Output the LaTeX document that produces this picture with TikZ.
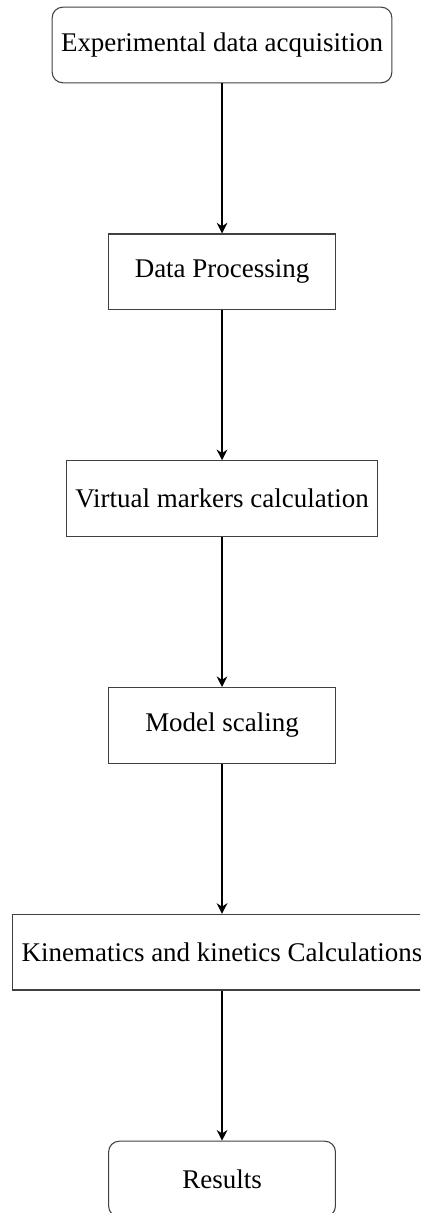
\documentclass[tikz,border=0pt]{standalone}
\usepackage{fontspec}
\setmainfont{Liberation Serif}
\usetikzlibrary{arrows.meta,positioning}
\begin{document}
\begin{tikzpicture}[
  box/.style={draw=black!75, line width=0.4pt, minimum width=3cm, minimum height=1cm, align=center, font=\fontsize{10.15}{12}\selectfont},
  term/.style={box, rounded corners=4pt},
  flow/.style={-{Stealth[length=4pt,width=4pt]}, line width=0.8pt, black}
]
\clip (-2.937,0.595) rectangle (2.619,-15.45);
\node[term] (a) at (0,0) {Experimental data acquisition};
\node[box] (b) at (0,-3) {Data Processing};
\node[box] (c) at (0,-6) {Virtual markers calculation};
\node[box] (d) at (0,-9) {Model scaling};
\node[box] (e) at (0,-12) {Kinematics and kinetics Calculations};
\node[term] (f) at (0,-15) {Results};
\draw[flow] (a) -- (b);
\draw[flow] (b) -- (c);
\draw[flow] (c) -- (d);
\draw[flow] (d) -- (e);
\draw[flow] (e) -- (f);
\end{tikzpicture}
\end{document}
